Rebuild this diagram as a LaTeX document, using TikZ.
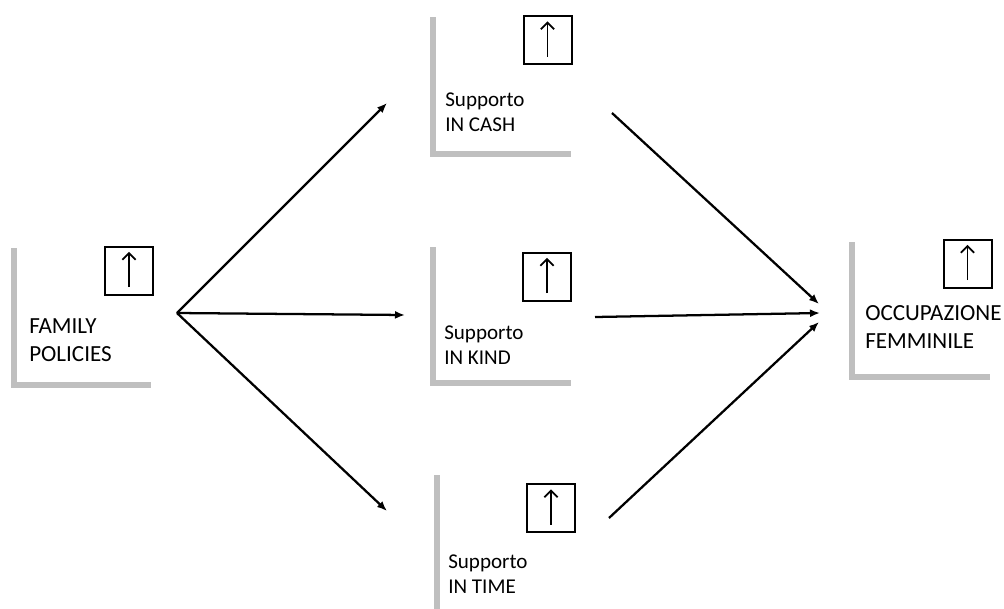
\documentclass[tikz,border=0pt]{standalone}
\usepackage{fontspec}
\setmainfont{Carlito}
\usetikzlibrary{arrows.meta}
\tikzset{
  ell/.style={draw=black!25, line width=3.8pt},
  upbox/.style={draw=black, line width=1.5pt, minimum size=36pt, inner sep=0pt},
  uparr/.style={line width=1.3pt, -{Straight Barb[length=5pt,width=10pt,line width=1.3pt]}},
  conn/.style={line width=1.7pt, -{Latex[length=7.5pt,width=6pt]}},
  bigtxt/.style={anchor=base west, inner sep=0pt, align=left, font=\fontsize{17.3pt}{21pt}\selectfont},
  smalltxt/.style={anchor=base west, inner sep=0pt, align=left, font=\fontsize{15.8pt}{18.75pt}\selectfont},
}
\begin{document}
\begin{tikzpicture}[x=0.75pt,y=-0.75pt]
\useasboundingbox (0,0) rectangle (1004,608);
% L-shaped frames
\draw[ell] (14,248) -- (14,385) -- (151,385);
\draw[ell] (433,17) -- (433,154) -- (571,154);
\draw[ell] (433,247) -- (433,383) -- (571,383);
\draw[ell] (437,475) -- (437,625);
\draw[ell] (852,242) -- (852,377) -- (990,377);
% up-arrow boxes
\node[upbox] (famUp) at (129,270.5) {};
\node[upbox] (cashUp) at (547.5,40) {};
\node[upbox] (kindUp) at (547,276.5) {};
\node[upbox] (timeUp) at (551,508) {};
\node[upbox] (occUp) at (967.5,263.5) {};
\foreach \b in {famUp,cashUp,kindUp,timeUp,occUp}{
  \draw[uparr] ([yshift=-12.5pt]\b.center) -- ([yshift=14pt]\b.center);
}
% texts (anchor = baseline of the last line)
\node[bigtxt] (famText) at (29,361) {FAMILY\\POLICIES};
\node[smalltxt] (cashText) at (445,131) {Supporto\\IN CASH};
\node[smalltxt] (kindText) at (444,364) {Supporto\\IN KIND};
\node[smalltxt] (timeText) at (448,593) {Supporto\\IN TIME};
\node[bigtxt] (occText) at (865,348) {OCCUPAZIONE\\FEMMINILE};
% connector endpoints
\coordinate (fork) at (177,313);
\coordinate (cashIn) at (387,103);
\coordinate (kindIn) at (405,315);
\coordinate (timeIn) at (387,511);
\coordinate (cashOut) at (612,113);
\coordinate (kindOut) at (595,317);
\coordinate (timeOut) at (609,518);
\coordinate (occInA) at (819,304);
\coordinate (occInB) at (820,313);
\coordinate (occInC) at (819,322);
\draw[conn] (fork) -- (cashIn);
\draw[conn] (fork) -- (kindIn);
\draw[conn] (fork) -- (timeIn);
\draw[conn] (cashOut) -- (occInA);
\draw[conn] (kindOut) -- (occInB);
\draw[conn] (timeOut) -- (occInC);
\end{tikzpicture}
\end{document}
